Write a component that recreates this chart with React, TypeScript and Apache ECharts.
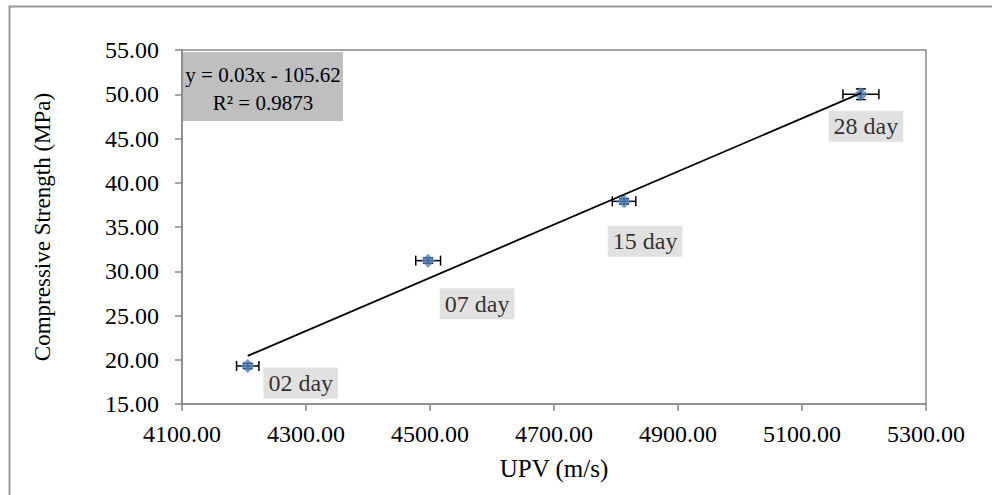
import React, { useEffect, useRef } from "react";
import * as echarts from "echarts";

const ages = ["02 day", "07 day", "15 day", "28 day"];
const upv = [4206, 4497, 4813, 5195];
const strength = [19.3, 31.2, 37.9, 50.0];
const upvErr = [18, 20, 19, 29];
const strengthErr = [0.3, 0.3, 0.3, 0.6];
const equationLines = ["y = 0.03x - 105.62", "R² = 0.9873"];
const xAxisTitle = "UPV (m/s)";
const yAxisTitle = "Compressive Strength (MPa)";

// label placement (style only)
const labelOffsets = [
  [53, 17],
  [49, 43],
  [21, 40],
  [5, 32],
];

const FONT = "'Liberation Serif', 'Times New Roman', serif";

function regression(xs: number[], ys: number[]) {
  const n = xs.length;
  const mx = xs.reduce((a, b) => a + b, 0) / n;
  const my = ys.reduce((a, b) => a + b, 0) / n;
  let sxy = 0;
  let sxx = 0;
  for (let i = 0; i < n; i++) {
    sxy += (xs[i] - mx) * (ys[i] - my);
    sxx += (xs[i] - mx) * (xs[i] - mx);
  }
  const slope = sxy / sxx;
  return { slope, intercept: my - slope * mx };
}

export default function App() {
  const ref = useRef<HTMLDivElement>(null);
  useEffect(() => {
    if (!ref.current) return;
    const chart = echarts.init(ref.current, undefined, { renderer: "svg" });
    const { slope, intercept } = regression(upv, strength);
    const xmin = Math.min(...upv);
    const xmax = Math.max(...upv);
    const trend = [
      [xmin, slope * xmin + intercept],
      [xmax, slope * xmax + intercept],
    ];
    const cap = 5;
    chart.setOption({
      animation: false,
      backgroundColor: "#ffffff",
      grid: {
        left: 182,
        top: 50,
        right: 66,
        bottom: 91,
        show: true,
        borderColor: "#888888",
        borderWidth: 1.5,
        backgroundColor: "transparent",
      },
      xAxis: {
        type: "value",
        min: 4100,
        max: 5300,
        interval: 200,
        name: xAxisTitle,
        nameLocation: "middle",
        nameGap: 52,
        nameTextStyle: { fontFamily: FONT, fontSize: 25, color: "#000" },
        axisLine: { show: true, lineStyle: { color: "#888888", width: 1.5 } },
        axisTick: { show: true, inside: false, length: 7, lineStyle: { color: "#888888", width: 1.5 } },
        axisLabel: {
          fontFamily: FONT,
          fontSize: 24,
          color: "#000",
          margin: 18,
          formatter: (v: number) => v.toFixed(2),
        },
        splitLine: { show: false },
      },
      yAxis: {
        type: "value",
        min: 15,
        max: 55,
        interval: 5,
        name: yAxisTitle,
        nameLocation: "middle",
        nameRotate: 90,
        nameGap: 128,
        nameTextStyle: { fontFamily: FONT, fontSize: 23, color: "#000" },
        axisLine: { show: true, lineStyle: { color: "#888888", width: 1.5 } },
        axisTick: { show: true, inside: false, length: 7, lineStyle: { color: "#888888", width: 1.5 } },
        axisLabel: {
          fontFamily: FONT,
          fontSize: 24,
          color: "#000",
          margin: 23,
          formatter: (v: number) => v.toFixed(2),
        },
        splitLine: { show: false },
      },
      series: [
        {
          type: "custom",
          name: "error",
          z: 2,
          renderItem: (params: any, api: any) => {
            const x = api.value(0);
            const y = api.value(1);
            const ex = api.value(2);
            const ey = api.value(3);
            const l = api.coord([x - ex, y]);
            const r = api.coord([x + ex, y]);
            const t = api.coord([x, y + ey]);
            const b = api.coord([x, y - ey]);
            const st = { stroke: "#000", lineWidth: 1.5 };
            return {
              type: "group",
              children: [
                { type: "line", shape: { x1: l[0], y1: l[1], x2: r[0], y2: r[1] }, style: st },
                { type: "line", shape: { x1: l[0], y1: l[1] - cap, x2: l[0], y2: l[1] + cap }, style: st },
                { type: "line", shape: { x1: r[0], y1: r[1] - cap, x2: r[0], y2: r[1] + cap }, style: st },
                { type: "line", shape: { x1: t[0], y1: t[1], x2: b[0], y2: b[1] }, style: st },
                { type: "line", shape: { x1: t[0] - cap, y1: t[1], x2: t[0] + cap, y2: t[1] }, style: st },
                { type: "line", shape: { x1: b[0] - cap, y1: b[1], x2: b[0] + cap, y2: b[1] }, style: st },
              ],
            };
          },
          data: upv.map((x, i) => [x, strength[i], upvErr[i], strengthErr[i]]),
        },
        {
          type: "scatter",
          name: "Compressive Strength",
          z: 3,
          symbol: "diamond",
          symbolSize: 14,
          itemStyle: { color: "#4f81bd" },
          data: upv.map((x, i) => ({
            value: [x, strength[i]],
            label: { offset: labelOffsets[i] },
          })),
          label: {
            show: true,
            position: "inside",
            formatter: (p: any) => ages[p.dataIndex],
            fontFamily: FONT,
            fontSize: 24,
            color: "#000",
            backgroundColor: "#d9d9d9",
            padding: [4, 5, 3, 5],
          },
        },
        {
          type: "line",
          name: "Linear trend",
          z: 4,
          symbol: "none",
          lineStyle: { color: "#000", width: 1.8 },
          data: trend,
        },
      ],
      graphic: [
        {
          type: "rect",
          left: 7,
          top: 4,
          shape: { x: 0, y: 0, width: 1200, height: 800 },
          style: { fill: "none", stroke: "#999999", lineWidth: 2 },
          silent: true,
        },
        {
          type: "rect",
          shape: { x: 183, y: 52, width: 160, height: 69 },
          style: { fill: "#bfbfbf" },
          z: 10,
        },
        {
          type: "text",
          x: 263,
          y: 75,
          z: 11,
          style: {
            text: equationLines[0],
            fontFamily: FONT,
            fontSize: 21,
            fill: "#000",
            textAlign: "center",
            textVerticalAlign: "middle",
          },
        },
        {
          type: "text",
          x: 263,
          y: 103,
          z: 11,
          style: {
            text: equationLines[1],
            fontFamily: FONT,
            fontSize: 21,
            fill: "#000",
            textAlign: "center",
            textVerticalAlign: "middle",
          },
        },
      ],
    });
    return () => chart.dispose();
  }, []);
  return (
    <div
      ref={ref}
      style={{ position: "fixed", left: 0, top: 0, width: 992, height: 495 }}
    />
  );
}
